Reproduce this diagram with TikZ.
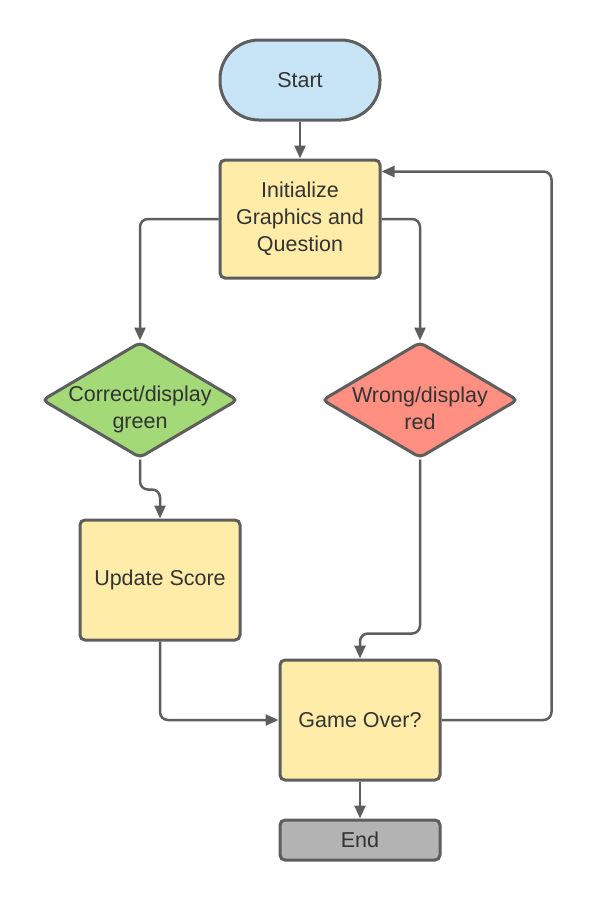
\documentclass[tikz,border=0pt]{standalone}
\usepackage{fontspec}
\setmainfont{Liberation Sans}
\usetikzlibrary{shapes.geometric, arrows.meta}
\definecolor{edgegray}{HTML}{5E5E5E}
\definecolor{txtgray}{HTML}{333333}
\definecolor{startblue}{HTML}{C7E5F6}
\definecolor{procyellow}{HTML}{FFECA9}
\definecolor{okgreen}{HTML}{A3D977}
\definecolor{badred}{HTML}{FF8F80}
\definecolor{endgray}{HTML}{B3B3B3}

\begin{document}
\begin{tikzpicture}[x = 1pt, y = -1pt,
                    font = \fontsize{21.5}{27}\selectfont, text = txtgray,
                    box/.style = {rectangle, draw = edgegray, line width = 3pt, rounded corners = 5pt,
                                  minimum width = 160pt, align = center, inner sep = 0pt},
                    term/.style = {box, fill = startblue, minimum height = 80pt, rounded corners = 39pt},
                    proc/.style = {box, fill = procyellow, minimum height = 120pt},
                    stop/.style = {box, fill = endgray, minimum height = 40pt},
                    decide/.style = {diamond, draw = edgegray, line width = 3pt, rounded corners = 5pt,
                                     minimum width = 196pt, minimum height = 116pt, inner sep = 0pt},
                    arr/.style = {draw = edgegray, line width = 2.5pt, rounded corners = 8pt,
                                  -{Triangle[width = 11pt, length = 13pt]}}]
  \useasboundingbox (0, 0) rectangle (590, 900);

  \node [term] (St) at (300, 80) {Start};
  \node [proc, minimum height = 118pt] (In) at (300, 219) {Initialize\\Graphics and\\Question};
  \node [decide, fill = okgreen,
         label = {[align = center, yshift = -9pt]center:Correct/display\\green}] (Co) at (140, 400) {};
  \node [decide, fill = badred,
         label = {[align = center, yshift = -8pt]center:Wrong/display\\red}] (Wr) at (420, 400) {};
  \node [proc] (Up) at (160, 580) {Update Score};
  \node [proc] (Go) at (360, 720) {Game Over?};
  \node [stop] (En) at (360, 840) {End};

  \draw [arr] (St) -- (In);
  \draw [arr] (In.west) -| (Co.north);
  \draw [arr] (In.east) -| (Wr.north);
  \draw [arr] (Co.south) -- ++(0, 30) -| (Up.north);
  \draw [arr] (Wr.south) -- ([yshift = 25pt]Go.north -| Wr.south) -| (Go.north);
  \draw [arr] (Up.south) |- (Go.west);
  \draw [arr] (Go.east) -- ++(110, 0) |- ([yshift = -13pt]In.north east);
  \draw [arr] (Go) -- (En);
\end{tikzpicture}
\end{document}
